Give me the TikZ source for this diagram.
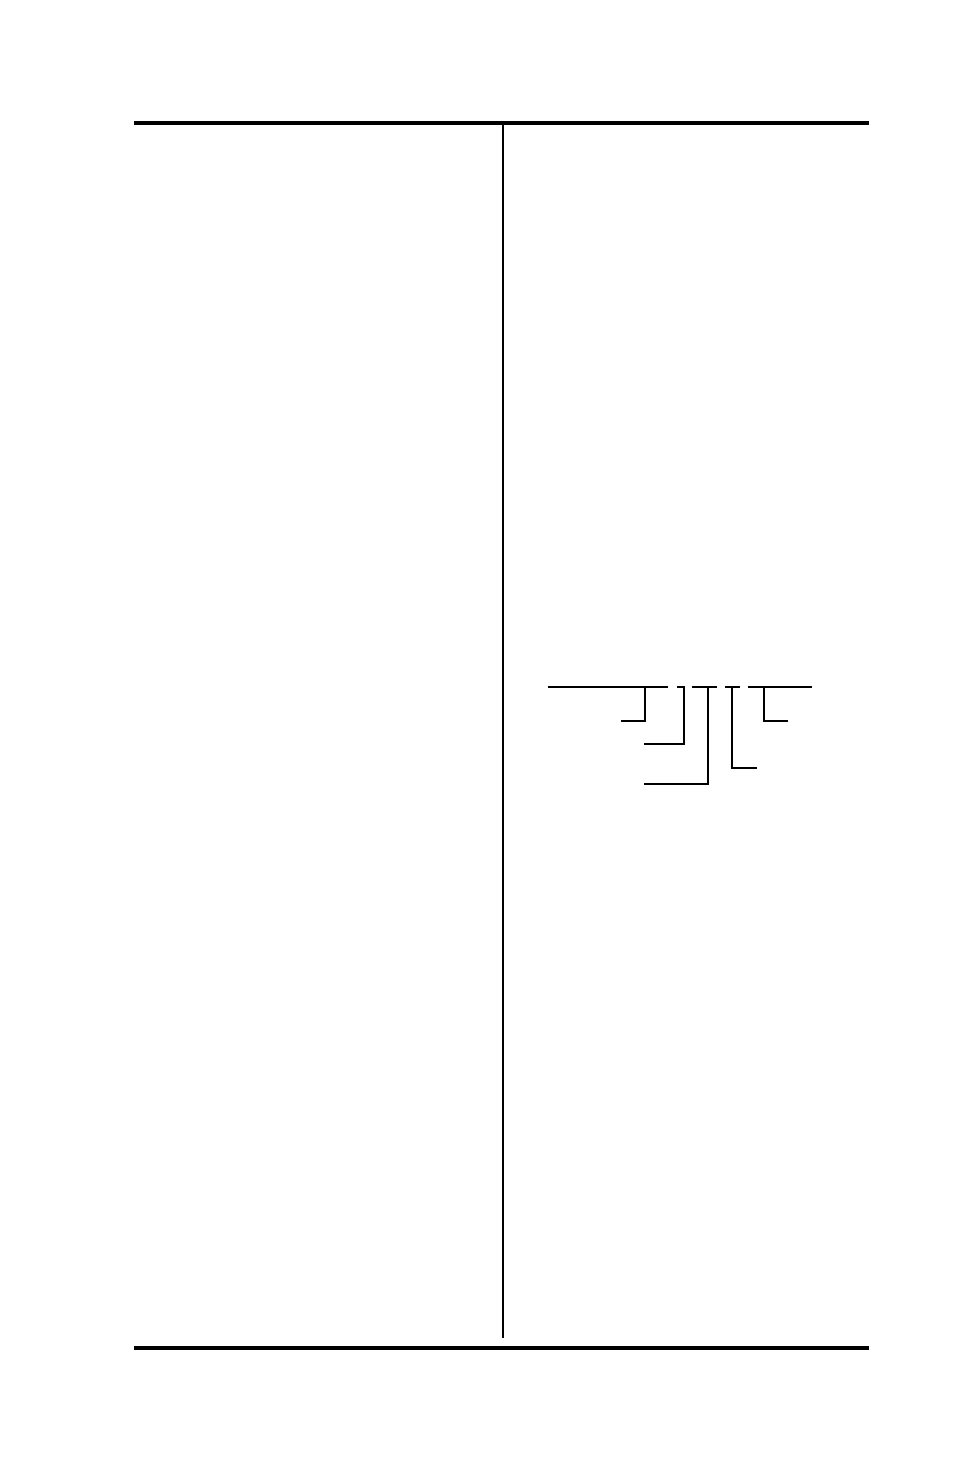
\documentclass[tikz,border=0pt]{standalone}
\usepackage{tikz}
\usetikzlibrary{positioning}

\tikzset{
  rule/.style={line width=4pt},
  divider/.style={line width=2pt},
  tie/.style={line width=1.6pt}
}

\begin{document}
\begin{tikzpicture}[x=1pt,y=-1pt]
\useasboundingbox (0,0) rectangle (954,1475);

%frame of the page
\coordinate (TopL) at (134,123);
\coordinate (TopR) at (869,123);
\coordinate (BotL) at (134,1348);
\coordinate (BotR) at (869,1348);
\coordinate (MidT) at (503,123);
\coordinate (MidB) at (503,1338);
\draw[rule] (TopL) -- (TopR);
\draw[rule] (BotL) -- (BotR);
\draw[divider] (MidT) -- (MidB);

%broken base line
\coordinate (SegA) at (548,687);  \coordinate (SegAe) at (668,687);
\coordinate (SegB) at (677,687);  \coordinate (SegBe) at (685,687);
\coordinate (SegC) at (692,687);  \coordinate (SegCe) at (717,687);
\coordinate (SegD) at (725,687);  \coordinate (SegDe) at (740,687);
\coordinate (SegE) at (748,687);  \coordinate (SegEe) at (812,687);
\draw[tie] (SegA) -- (SegAe)
           (SegB) -- (SegBe)
           (SegC) -- (SegCe)
           (SegD) -- (SegDe)
           (SegE) -- (SegEe);

%leaders
\coordinate (LeadA) at (645,687);  \coordinate (EndA) at (621,721);
\coordinate (LeadB) at (684,687);  \coordinate (EndB) at (644,744);
\coordinate (LeadC) at (708,687);  \coordinate (EndC) at (644,784);
\coordinate (LeadD) at (732,687);  \coordinate (EndD) at (757,768);
\coordinate (LeadE) at (764,687);  \coordinate (EndE) at (788,721);
\draw[tie] (LeadA) |- (EndA);
\draw[tie] (LeadB) |- (EndB);
\draw[tie] (LeadC) |- (EndC);
\draw[tie] (LeadD) |- (EndD);
\draw[tie] (LeadE) |- (EndE);
\end{tikzpicture}
\end{document}
